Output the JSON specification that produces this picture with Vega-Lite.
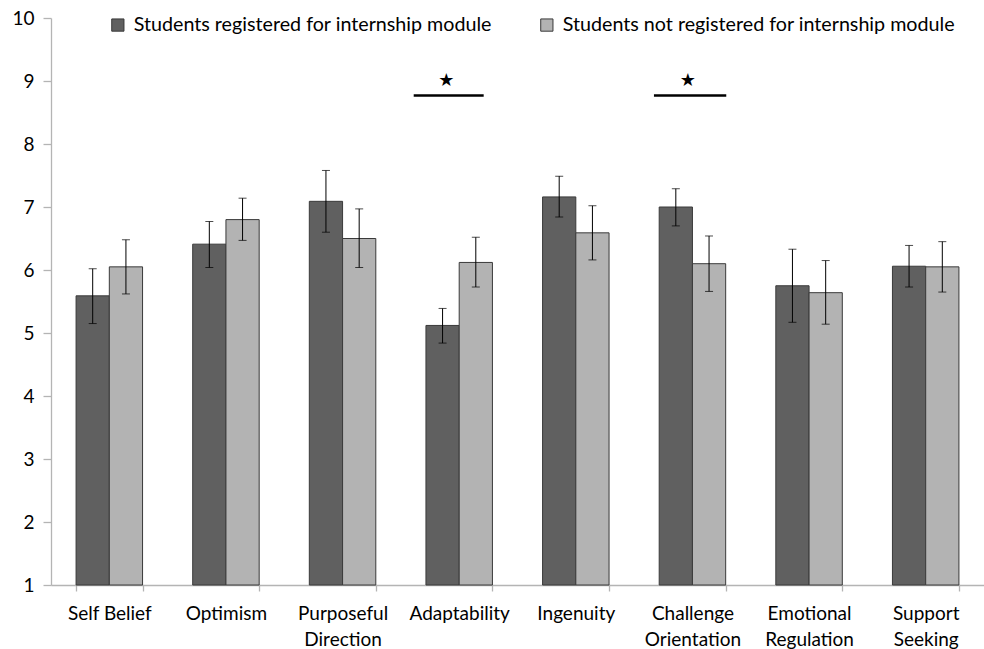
{
  "$schema": "https://vega.github.io/schema/vega-lite/v6.json",
  "width": 933,
  "height": 567,
  "autosize": {"type": "none"},
  "padding": {"left": 51, "top": 18, "right": 0, "bottom": 64},
  "background": "white",
  "config": {
    "font": "Lato",
    "view": {"stroke": null},
    "axis": {"grid": false, "labelFont": "Lato", "labelColor": "#000000", "domainColor": "#b4b4b4", "tickColor": "#b4b4b4", "domainWidth": 1.3, "tickWidth": 1.3},
    "legend": {"labelFont": "Lato"}
  },
  "datasets": {
    "bars": [
      {"category": "Self Belief", "group": "Students registered for internship module", "mean": 5.59, "lo": 5.15, "hi": 6.02},
      {"category": "Self Belief", "group": "Students not registered for internship module", "mean": 6.05, "lo": 5.62, "hi": 6.48},
      {"category": "Optimism", "group": "Students registered for internship module", "mean": 6.41, "lo": 6.04, "hi": 6.77},
      {"category": "Optimism", "group": "Students not registered for internship module", "mean": 6.8, "lo": 6.47, "hi": 7.14},
      {"category": "Purposeful Direction", "group": "Students registered for internship module", "mean": 7.09, "lo": 6.6, "hi": 7.58},
      {"category": "Purposeful Direction", "group": "Students not registered for internship module", "mean": 6.5, "lo": 6.04, "hi": 6.97},
      {"category": "Adaptability", "group": "Students registered for internship module", "mean": 5.12, "lo": 4.84, "hi": 5.39},
      {"category": "Adaptability", "group": "Students not registered for internship module", "mean": 6.12, "lo": 5.73, "hi": 6.52},
      {"category": "Ingenuity", "group": "Students registered for internship module", "mean": 7.16, "lo": 6.84, "hi": 7.49},
      {"category": "Ingenuity", "group": "Students not registered for internship module", "mean": 6.59, "lo": 6.16, "hi": 7.02},
      {"category": "Challenge Orientation", "group": "Students registered for internship module", "mean": 7.0, "lo": 6.7, "hi": 7.29},
      {"category": "Challenge Orientation", "group": "Students not registered for internship module", "mean": 6.1, "lo": 5.66, "hi": 6.54},
      {"category": "Emotional Regulation", "group": "Students registered for internship module", "mean": 5.75, "lo": 5.17, "hi": 6.33},
      {"category": "Emotional Regulation", "group": "Students not registered for internship module", "mean": 5.64, "lo": 5.14, "hi": 6.15},
      {"category": "Support Seeking", "group": "Students registered for internship module", "mean": 6.06, "lo": 5.73, "hi": 6.39},
      {"category": "Support Seeking", "group": "Students not registered for internship module", "mean": 6.05, "lo": 5.65, "hi": 6.45}
    ],
    "sig": [
      {"from": 3.11, "to": 3.71, "star": 3.39, "lineY": 8.77, "starY": 9.0},
      {"from": 5.17, "to": 5.79, "star": 5.46, "lineY": 8.77, "starY": 9.0}
    ]
  },
  "resolve": {"scale": {"x": "independent"}},
  "layer": [
    {
      "data": {"name": "bars"},
      "layer": [
        {
          "mark": {"type": "bar", "stroke": "#3a3a3a", "strokeWidth": 1},
          "encoding": {
            "x": {
              "field": "category", "type": "nominal",
              "sort": ["Self Belief", "Optimism", "Purposeful Direction", "Adaptability", "Ingenuity", "Challenge Orientation", "Emotional Regulation", "Support Seeking"],
              "scale": {"paddingInner": 0.43, "paddingOuter": 0.215},
              "axis": {"title": null, "labelAngle": 0, "labelFontSize": 19, "tickSize": 6, "tickBand": "extent", "labelPadding": 13, "labelLineHeight": 26,
                "labelExpr": "!isValid(datum.value) ? '' : (datum.value == 'Self Belief' ? datum.value : split(datum.value, ' '))"}
            },
            "xOffset": {"field": "group", "type": "nominal", "sort": ["Students registered for internship module", "Students not registered for internship module"], "scale": {"paddingInner": 0, "paddingOuter": 0}},
            "y": {"field": "mean", "type": "quantitative", "scale": {"domain": [1, 10], "zero": false, "nice": false},
              "axis": {"title": null, "values": [1, 2, 3, 4, 5, 6, 7, 8, 9, 10], "format": "d", "labelFontSize": 19, "tickSize": 8, "labelPadding": 9}},
            "y2": {"datum": 1},
            "color": {
              "field": "group", "type": "nominal",
              "scale": {"domain": ["Students registered for internship module", "Students not registered for internship module"], "range": ["#606060", "#b3b3b3"]},
              "legend": {"title": null, "orient": "none", "legendX": 57, "legendY": -3, "direction": "horizontal", "symbolType": "square", "symbolSize": 150, "symbolStrokeColor": "#3a3a3a", "symbolStrokeWidth": 1, "symbolOpacity": 1, "labelFontSize": 19.7, "labelLimit": 600, "labelOffset": 6, "columnPadding": 45, "labelColor": "#000000"}
            }
          }
        },
        {
          "mark": {"type": "rule", "color": "#000000", "strokeWidth": 1},
          "encoding": {
            "x": {"field": "category", "type": "nominal", "sort": ["Self Belief", "Optimism", "Purposeful Direction", "Adaptability", "Ingenuity", "Challenge Orientation", "Emotional Regulation", "Support Seeking"]},
            "xOffset": {"field": "group", "type": "nominal", "sort": ["Students registered for internship module", "Students not registered for internship module"]},
            "y": {"field": "lo", "type": "quantitative"},
            "y2": {"field": "hi"}
          }
        },
        {
          "mark": {"type": "tick", "color": "#000000", "thickness": 1, "size": 8},
          "encoding": {
            "x": {"field": "category", "type": "nominal", "sort": ["Self Belief", "Optimism", "Purposeful Direction", "Adaptability", "Ingenuity", "Challenge Orientation", "Emotional Regulation", "Support Seeking"]},
            "xOffset": {"field": "group", "type": "nominal", "sort": ["Students registered for internship module", "Students not registered for internship module"]},
            "y": {"field": "lo", "type": "quantitative"}
          }
        },
        {
          "mark": {"type": "tick", "color": "#000000", "thickness": 1, "size": 8},
          "encoding": {
            "x": {"field": "category", "type": "nominal", "sort": ["Self Belief", "Optimism", "Purposeful Direction", "Adaptability", "Ingenuity", "Challenge Orientation", "Emotional Regulation", "Support Seeking"]},
            "xOffset": {"field": "group", "type": "nominal", "sort": ["Students registered for internship module", "Students not registered for internship module"]},
            "y": {"field": "hi", "type": "quantitative"}
          }
        }
      ]
    },
    {
      "data": {"name": "sig"},
      "layer": [
        {
          "mark": {"type": "rule", "color": "#000000", "strokeWidth": 2.5},
          "encoding": {
            "x": {"field": "from", "type": "quantitative", "scale": {"domain": [0, 8], "nice": false, "zero": false}, "axis": null},
            "x2": {"field": "to"},
            "y": {"field": "lineY", "type": "quantitative"}
          }
        },
        {
          "mark": {"type": "text", "text": "★", "fontSize": 18, "color": "#000000", "font": "DejaVu Sans"},
          "encoding": {
            "x": {"field": "star", "type": "quantitative", "scale": {"domain": [0, 8], "nice": false, "zero": false}, "axis": null},
            "y": {"field": "starY", "type": "quantitative"}
          }
        }
      ]
    }
  ]
}
